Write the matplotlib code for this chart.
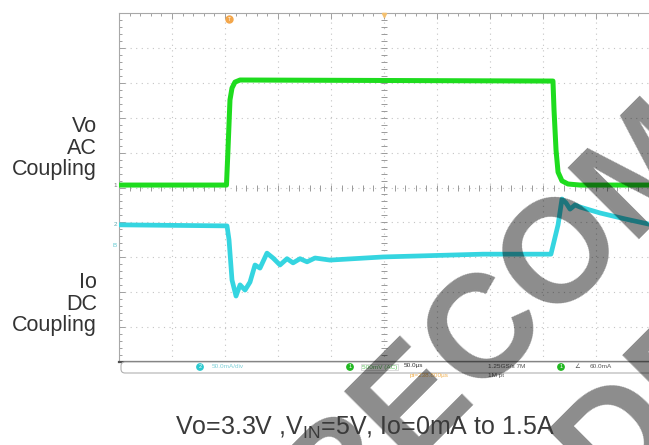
import numpy as np
import matplotlib.pyplot as plt
from matplotlib.patches import FancyBboxPatch

plt.rcParams['font.family'] = ['Liberation Sans', 'DejaVu Sans']
plt.rcParams['mathtext.fontset'] = 'custom'
plt.rcParams['mathtext.rm'] = 'Liberation Sans'

# Scope capture: time in us (50 us/div), traces in screen divisions
vo_t = [0, 101.4, 102.8, 104.7, 106.6, 109.4, 114.2, 409.4, 410.4, 412.3,
        414.2, 417.9, 423.6, 434.9, 500]
vo_div = [0.07, 0.07, 1.07, 2.51, 2.85, 3.02, 3.08, 3.05, 2.22, 1.07,
          0.44, 0.19, 0.10, 0.07, 0.07]

io_t = [0, 101.9, 103.8, 106.6, 110.4, 114.2, 118.9, 123.6, 128.3, 133.0,
        139.6, 145.3, 151.9, 158.5, 164.2, 170.8, 177.4, 184.9, 199.1, 249.1,
        343.4, 407.5, 414.2, 417.9, 421.7, 425.5, 430.2, 434.9, 453.8, 477.4,
        500]
io_div = [-1.07, -1.10, -1.50, -2.65, -3.11, -2.79, -2.94, -2.71, -2.22, -2.31,
          -1.88, -2.02, -2.22, -2.04, -2.16, -2.04, -2.13, -2.02, -2.08, -1.99,
          -1.91, -1.91, -1.07, -0.33, -0.44, -0.62, -0.50, -0.56, -0.73, -0.90,
          -1.05]

trig_t = 103.8
caption = r'Vo=3.3V ,V$_{\mathregular{IN}}$=5V, Io=0mA to 1.5A'

fig = plt.figure(figsize=(6.49, 4.45), dpi=100)
ax = fig.add_axes([119 / 649, 83 / 445, 530 / 649, 349 / 445])
ax.set_xlim(0, 500)
ax.set_ylim(-5, 5)

# graticule
for k in range(1, 10):
    ax.axvline(50 * k, color='#c4c4c4', lw=0.8, ls=(0, (1, 4)), zorder=1)
for k in range(-4, 5):
    ax.axhline(k, color='#c4c4c4', lw=0.8, ls=(0, (1, 4)), zorder=1)
ax.plot(np.arange(0, 501, 10), np.zeros(51), ls='none', marker='|',
        ms=4, mew=0.7, color='#9a9a9a', zorder=1)
ax.plot(np.full(51, 250), np.arange(-5, 5.01, 0.2), ls='none', marker='_',
        ms=4, mew=0.7, color='#9a9a9a', zorder=1)

ax.set_xticks(np.arange(0, 501, 50))
ax.set_xticks(np.arange(0, 501, 10), minor=True)
ax.set_yticks(np.arange(-5, 6, 1))
ax.set_yticks(np.arange(-5, 5.01, 0.2), minor=True)
ax.tick_params(which='both', direction='in', labelbottom=False, labelleft=False,
               top=True, bottom=False, right=False, color='#a0a0a0', width=0.7)
ax.tick_params(which='major', length=4)
ax.tick_params(which='minor', length=2)
for s in ['left', 'top']:
    ax.spines[s].set_color('#a8a8a8')
    ax.spines[s].set_linewidth(0.8)
ax.spines['right'].set_visible(False)
ax.spines['bottom'].set_color('#505050')
ax.spines['bottom'].set_linewidth(1.6)

# traces
ax.plot(vo_t, vo_div, color='#1edc1e', lw=3.6, solid_joinstyle='round', zorder=3)
ax.plot(io_t, io_div, color='#35d5e0', lw=3.4, solid_joinstyle='round', zorder=3)

# channel / trigger markers
ax.text(-2, vo_div[0], '1', color='#777777', fontsize=4.5, ha='right', va='center', clip_on=False)
ax.text(-2, io_div[0], '2', color='#5fa8b0', fontsize=4.5, ha='right', va='center', clip_on=False)
ax.text(-2, -1.65, 'B', color='#5fc8d0', fontsize=4.5, ha='right', va='center', clip_on=False)
ax.plot([trig_t], [4.82], marker='o', ms=5, color='#f3a64a', clip_on=False, zorder=4)
ax.text(trig_t, 4.82, 'T', color='white', fontsize=3.5, ha='center', va='center', zorder=5)
ax.plot([250], [4.95], marker='v', ms=3, color='#f3c070', clip_on=False, zorder=4)

# status bar
box = FancyBboxPatch((1.21, 0.72), 5.6, 0.11, boxstyle='round,pad=0,rounding_size=0.04',
                     transform=fig.dpi_scale_trans, fc='white', ec='#b0b0b0', lw=0.8)
fig.patches.append(box)
def chan_dot(x, color, label):
    fig.text(x / 649, (445 - 367) / 445, label, color='white', fontsize=4, ha='center', va='center',
             bbox=dict(boxstyle='circle,pad=0.25', fc=color, ec='none'))
chan_dot(200, '#2cc9cf', '2')
chan_dot(350, '#22b822', '1')
chan_dot(561, '#22b822', '1')
small = dict(fontsize=4.6, va='center')
fig.text(212 / 649, (445 - 367) / 445, '50.0mA/div', color='#7fd0d8', **small)
fig.text(362 / 649, (445 - 367) / 445, '500mV (AC)', color='#5cbf5c',
         bbox=dict(boxstyle='square,pad=0.15', fc='none', ec='#cfcfcf', lw=0.5), **small)
fig.text(404 / 649, (445 - 366) / 445, '50.0\u00b5s', color='#333333', **small)
fig.text(410 / 649, (445 - 376) / 445, 'pt=238.800\u00b5s', color='#f0b050', **small)
fig.text(488 / 649, (445 - 366) / 445, '1.25GS/s 7M', color='#555555', **small)
fig.text(488 / 649, (445 - 376) / 445, '1M pt', color='#555555', **small)
fig.text(574 / 649, (445 - 367) / 445, '\u2220', color='#555555', **small)
fig.text(590 / 649, (445 - 367) / 445, '60.0mA', color='#555555', **small)

# side labels
fig.text(97 / 649, (445 - 148) / 445, 'Vo\nAC\nCoupling', ha='right', va='center',
         fontsize=15.5, linespacing=1.0, color='#333333')
fig.text(97 / 649, (445 - 304) / 445, 'Io\nDC\nCoupling', ha='right', va='center',
         fontsize=15.5, linespacing=1.0, color='#333333')

# watermark (semi-transparent so traces show through darker)
wm = dict(rotation=45, rotation_mode='anchor', ha='left', va='baseline',
          fontsize=105, fontweight='bold', color='black', alpha=0.45, zorder=10)
fig.text(88 / 649, (445 - 790) / 445, 'NOT RECOMMENDED', **wm)
fig.text(97 / 649, (445 - 1023) / 445, 'FOR NEW DESIGNS', **wm)

# caption sits above the watermark
fig.text(365 / 649, (445 - 428) / 445, caption, ha='center', va='center',
         fontsize=18, color='#3a3a3a', zorder=11)

fig.savefig('out.png', dpi=100)
